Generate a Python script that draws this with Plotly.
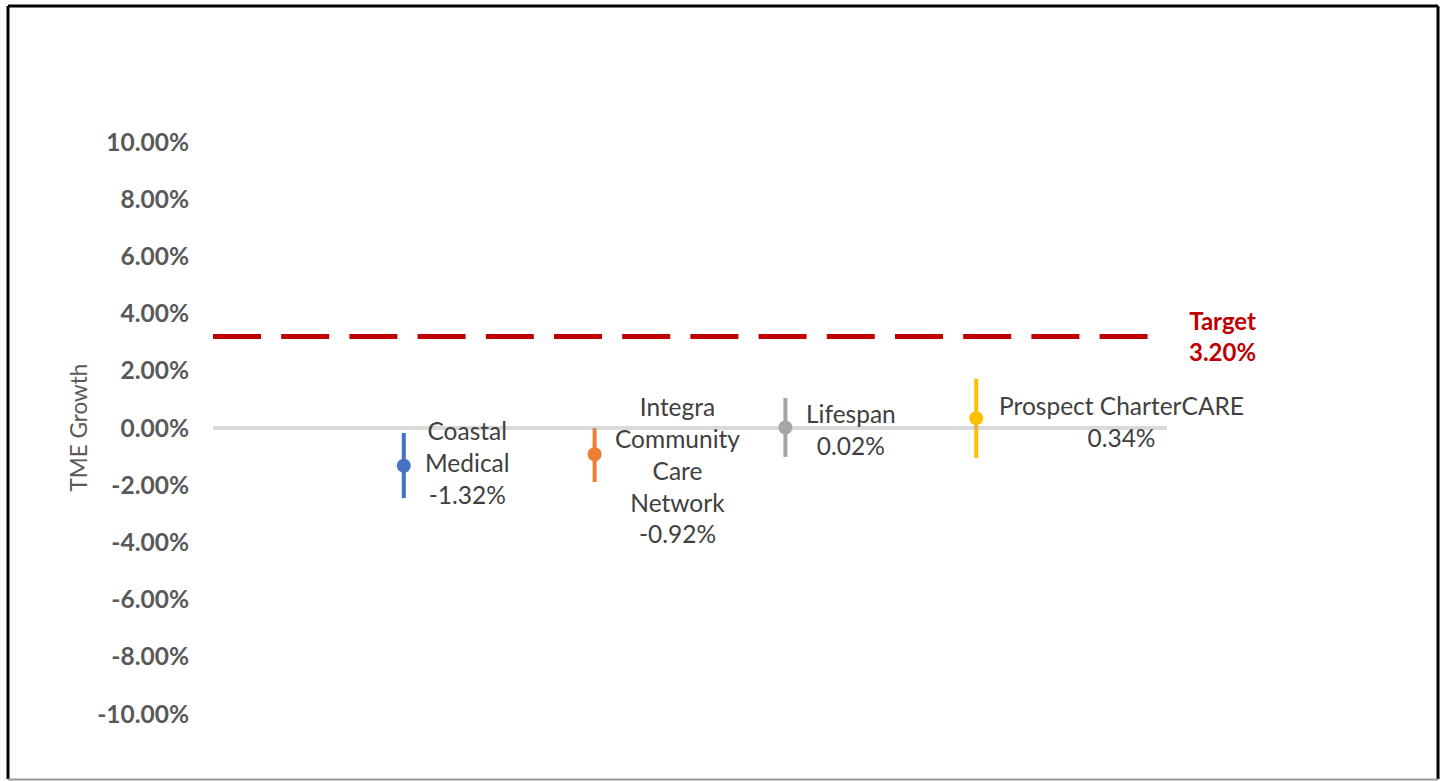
import plotly.graph_objects as go

# ---- data ----
names = ["Coastal<br>Medical", "Integra<br>Community<br>Care<br>Network", "Lifespan", "Prospect CharterCARE"]
values = [-1.32, -0.92, 0.02, 0.34]
upper = [-0.175, 0.0, 1.05, 1.72]
lower = [-2.45, -1.89, -1.01, -1.05]
colors = ["#4472C4", "#ED7D31", "#A5A5A5", "#FFC000"]
target = 3.20
tick_vals = [10, 8, 6, 4, 2, 0, -2, -4, -6, -8, -10]
tick_text = [f"{v:.2f}%" for v in tick_vals]

# label offsets (pixels) relative to each point
label_dx = [64, 83, 66, 145]
label_dy = [3, -16, -2, -3]

xpos = list(range(1, len(names) + 1))
xmax = len(names) + 1

fig = go.Figure()

# target dashed line
fig.add_trace(go.Scatter(
    x=[0, xmax], y=[target, target], mode="lines",
    line=dict(color="#C00000", width=5, dash="48px,20.2px"),
    hoverinfo="skip", showlegend=False))

for i, (n, v, u, l, c) in enumerate(zip(names, values, upper, lower, colors)):
    fig.add_trace(go.Scatter(
        x=[xpos[i]], y=[v], mode="markers",
        marker=dict(color=c, size=14),
        error_y=dict(type="data", symmetric=False, array=[u - v], arrayminus=[v - l],
                     color=c, thickness=4, width=0),
        showlegend=False, name=n.replace("<br>", " ")))
    fig.add_annotation(x=xpos[i], y=v, text=f"{n}<br>{v:.2f}%", showarrow=False,
                       xanchor="center", yanchor="middle",
                       xshift=label_dx[i], yshift=label_dy[i],
                       font=dict(family="Lato", size=24.5, color="#404040"))

# target label
fig.add_annotation(x=xmax, y=target, text=f"<b>Target<br>{target:.2f}%</b>", showarrow=False,
                   xanchor="center", yanchor="middle", xshift=55, yshift=0,
                   font=dict(family="Lato", size=24, color="#C00000"))

# axis title as annotation centred at zero
fig.add_annotation(xref="paper", x=-0.142, y=0, text="TME Growth", showarrow=False,
                   textangle=-90, xanchor="center", yanchor="middle",
                   font=dict(family="Lato", size=22.5, color="#595959"))

# zero line drawn above markers
fig.add_shape(type="line", x0=0, x1=xmax, y0=0, y1=0, layer="above",
              line=dict(color="rgba(166,166,166,0.42)", width=4))

# outer border
L, R, T, B = 213, 278, 5, 2
W, H = 1445, 781
pw, ph = W - L - R, H - T - B
def px_x(p): return (p - L) / pw
def px_y(p): return (H - B - p) / ph
fig.add_shape(type="line", xref="paper", yref="paper", x0=px_x(8), x1=px_x(1438), y0=px_y(6), y1=px_y(6),
              line=dict(color="black", width=3))
fig.add_shape(type="line", xref="paper", yref="paper", x0=px_x(8), x1=px_x(8), y0=px_y(6), y1=px_y(779),
              line=dict(color="black", width=3))
fig.add_shape(type="line", xref="paper", yref="paper", x0=px_x(1438), x1=px_x(1438), y0=px_y(6), y1=px_y(779),
              line=dict(color="black", width=3))
fig.add_shape(type="line", xref="paper", yref="paper", x0=px_x(8), x1=px_x(1438), y0=px_y(779.5), y1=px_y(779.5),
              line=dict(color="#999999", width=2))

fig.update_layout(
    width=W, height=H,
    margin=dict(l=L, r=R, t=T, b=B),
    paper_bgcolor="white", plot_bgcolor="white",
    xaxis=dict(range=[0, xmax], visible=False),
    yaxis=dict(range=[-(H - B - 428) / 28.6, (428 - T) / 28.6],
               tickvals=tick_vals, ticktext=tick_text,
               showgrid=False, zeroline=False, showline=False, ticks="",
               ticklabelstandoff=23,
               tickfont=dict(family="Lato", size=24.5, color="#595959", weight="bold")),
)

fig.write_html("out.html")
